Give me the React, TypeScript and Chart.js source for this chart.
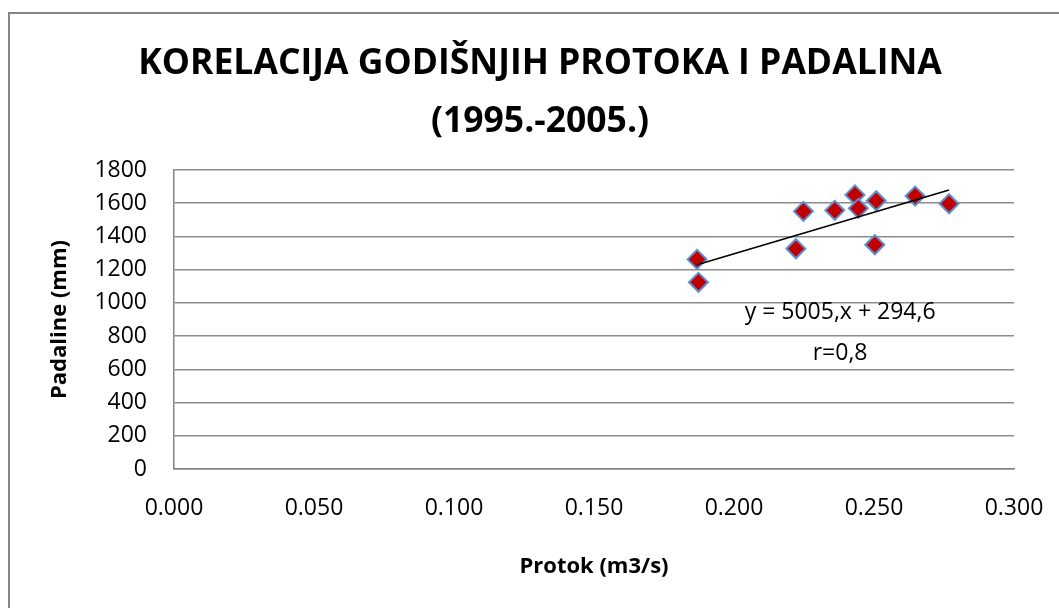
import React, { useEffect, useRef } from "react";
import { Chart, registerables } from "chart.js";

Chart.register(...registerables);

const titleLines = ["KORELACIJA GODIŠNJIH PROTOKA I PADALINA", "(1995.-2005.)"];
const xAxisTitle = "Protok (m3/s)";
const yAxisTitle = "Padaline (mm)";
const protok = [0.1868, 0.1873, 0.2221, 0.2248, 0.236, 0.2432, 0.2444, 0.2508, 0.2503, 0.2647, 0.2768];
const padaline = [1262, 1124, 1326, 1551, 1557, 1650, 1569, 1615, 1350, 1643, 1597];
const trendSlope = 5005;
const trendIntercept = 294.6;
const annotationLines = ["y = 5005,x + 294,6", "r=0,8"];

const FONT = "'Open Sans', sans-serif";

export default function App() {
  const ref = useRef<HTMLCanvasElement | null>(null);

  useEffect(() => {
    if (!ref.current) return;
    const xmin = Math.min(...protok);
    const xmax = Math.max(...protok);
    const trend = [
      { x: xmin, y: trendSlope * xmin + trendIntercept },
      { x: xmax, y: trendSlope * xmax + trendIntercept },
    ];
    const points = protok.map((x, i) => ({ x, y: padaline[i] }));

    const decor = {
      id: "decor",
      beforeDraw(chart: any) {
        const ctx = chart.ctx;
        ctx.save();
        ctx.fillStyle = "#ffffff";
        ctx.fillRect(0, 0, chart.width, chart.height);
        ctx.strokeStyle = "#868686";
        ctx.lineWidth = 2;
        ctx.beginPath();
        ctx.moveTo(9, chart.height + 10);
        ctx.lineTo(9, 13);
        ctx.lineTo(chart.width + 10, 13);
        ctx.stroke();
        ctx.restore();
      },
      afterDraw(chart: any) {
        const ctx = chart.ctx;
        const area = chart.chartArea;
        const xs = chart.scales.x;
        const ys = chart.scales.y;
        ctx.save();
        ctx.fillStyle = "#000000";
        ctx.textAlign = "center";
        ctx.textBaseline = "middle";
        ctx.font = `bold 35.5px ${FONT}`;
        ctx.fillText(titleLines[0], 540, 64);
        ctx.fillText(titleLines[1], 540, 122);

        ctx.font = `bold 22px ${FONT}`;
        ctx.fillText(xAxisTitle, (area.left + area.right) / 2, 567);
        ctx.save();
        ctx.translate(60, (area.top + area.bottom) / 2);
        ctx.rotate(-Math.PI / 2);
        ctx.fillText(yAxisTitle, 0, 0);
        ctx.restore();

        ctx.font = `23px ${FONT}`;
        const ax = xs.getPixelForValue(0.2379);
        ctx.fillText(annotationLines[0], ax, ys.getPixelForValue(950) + 1);
        ctx.fillText(annotationLines[1], ax, ys.getPixelForValue(700) + 1);
        ctx.restore();
      },
    };

    const chart = new Chart(ref.current, {
      type: "scatter",
      data: {
        datasets: [
          {
            label: "trend",
            data: trend,
            showLine: true,
            borderColor: "#000000",
            borderWidth: 1.6,
            pointRadius: 0,
            pointHoverRadius: 0,
            fill: false,
          } as any,
          {
            label: "Padaline",
            data: points,
            pointStyle: "rectRot",
            pointRadius: 9.5,
            pointHoverRadius: 9.5,
            pointBackgroundColor: "#c00000",
            pointBorderColor: "#5b8fd0",
            pointBorderWidth: 2,
            backgroundColor: "#c00000",
            borderColor: "#5b8fd0",
            showLine: false,
          } as any,
        ],
      },
      options: {
        responsive: false,
        animation: false,
        layout: { padding: { left: 0, right: 45, top: 170, bottom: 0 } },
        plugins: {
          legend: { display: false },
          title: { display: false },
          tooltip: { enabled: false },
        },
        scales: {
          x: {
            type: "linear",
            min: 0,
            max: 0.3,
            afterFit: (s: any) => {
              s.height = 139;
              s.paddingLeft = 0;
              s.paddingRight = 0;
            },
            ticks: {
              stepSize: 0.05,
              padding: 26,
              color: "#000000",
              font: { family: FONT, size: 23 },
              callback: (v: any) => Number(v).toFixed(3),
              maxRotation: 0,
            },
            grid: { display: false, drawTicks: false },
            border: { display: true, color: "#868686", width: 1.5 },
          },
          y: {
            type: "linear",
            min: 0,
            max: 1800,
            afterFit: (s: any) => {
              s.width = 174;
              s.paddingTop = 0;
              s.paddingBottom = 0;
            },
            ticks: {
              stepSize: 200,
              padding: 27,
              color: "#000000",
              font: { family: FONT, size: 23 },
              callback: (v: any) => String(v),
            },
            grid: { color: "#8c8c8c", lineWidth: 1.5, drawTicks: false },
            border: { display: true, color: "#868686", width: 1.5 },
          },
        },
      } as any,
      plugins: [decor],
    });
    return () => chart.destroy();
  }, []);

  return (
    <div style={{ position: "fixed", left: 0, top: 0, width: 1059, height: 608, background: "#fff" }}>
      <canvas ref={ref} width={1059} height={608} style={{ display: "block" }} />
    </div>
  );
}
